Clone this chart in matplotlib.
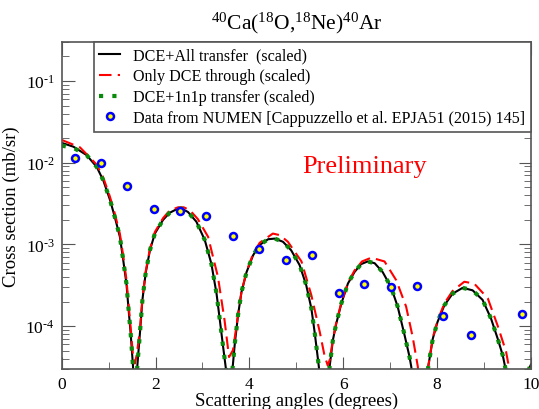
import matplotlib
matplotlib.use("Agg")
import matplotlib.pyplot as plt
import numpy as np
from matplotlib.ticker import MultipleLocator, LogLocator, NullFormatter, FuncFormatter

plt.rcParams['font.family'] = ['Liberation Serif', 'DejaVu Serif']
plt.rcParams['mathtext.fontset'] = 'custom'
plt.rcParams['mathtext.rm'] = 'Liberation Serif'
plt.rcParams['mathtext.it'] = 'Liberation Serif:italic'
plt.rcParams['axes.unicode_minus'] = False

# DCE+All transfer (scaled)
x_all = [0.00, 0.25, 0.53, 0.745, 0.885, 1.03, 1.13, 1.24, 1.31, 1.38, 1.42, 1.47, 1.52, 1.565,
         1.61, 1.666, 1.72, 1.79, 1.88, 1.985, 2.16, 2.30, 2.45, 2.55, 2.69, 2.87, 3.05, 3.19,
         3.30, 3.37, 3.44, 3.50, 3.57, 3.64, 3.69, 3.76, 3.83, 3.94, 4.08, 4.22, 4.40, 4.54,
         4.715, 4.89, 5.07, 5.21, 5.32, 5.39, 5.46, 5.48, 5.60, 5.71, 5.78, 5.85, 5.96, 6.10,
         6.24, 6.38, 6.52, 6.67, 6.84, 7.02, 7.16, 7.30, 7.41, 7.45, 7.63, 7.815, 7.91, 8.01,
         8.155, 8.33, 8.545, 8.757, 8.97, 9.15, 9.29, 9.40, 9.45, 9.65, 9.90, 10.0]
y_all = [1.75e-2, 1.57e-2, 1.24e-2, 8.9e-3, 6.1e-3, 3.5e-3, 2.18e-3, 1.24e-3, 6.5e-4, 3.3e-4,
         1.74e-4, 8.1e-5, 3.2e-5, 5e-6, 3.2e-5, 8.1e-5, 2.1e-4, 4.5e-4, 8.5e-4, 1.36e-3,
         2.0e-3, 2.44e-3, 2.7e-3, 2.75e-3, 2.5e-3, 1.9e-3, 1.13e-3, 5.8e-4, 2.5e-4, 1.19e-4,
         5.6e-5, 3.0e-5, 4e-6, 3.0e-5, 6.2e-5, 1.4e-4, 2.6e-4, 4.6e-4, 7.4e-4, 9.9e-4,
         1.16e-3, 1.18e-3, 1.08e-3, 8.5e-4, 5.6e-4, 3.2e-4, 1.66e-4, 8.5e-5, 4.0e-5, 3.2e-5,
         4e-6, 3.2e-5, 6.8e-5, 1.07e-4, 1.9e-4, 3.33e-4, 4.6e-4, 5.75e-4, 6.2e-4, 5.9e-4,
         4.6e-4, 3.0e-4, 1.74e-4, 8.1e-5, 4.3e-5, 3.2e-5, 4e-6, 3.3e-5, 7.1e-5, 1.13e-4,
         1.8e-4, 2.5e-4, 2.95e-4, 2.75e-4, 2.1e-4, 1.24e-4, 7.1e-5, 4.4e-5, 3.2e-5, 4e-6,
         2.5e-5, 3.4e-5]

# Only DCE through (scaled)
x_dce = [0.00, 0.39, 0.745, 0.885, 1.03, 1.13, 1.24, 1.31, 1.38, 1.42, 1.47, 1.52, 1.56, 1.60,
         1.666, 1.72, 1.79, 1.88, 1.985, 2.16, 2.30, 2.48, 2.60, 2.73, 2.90, 3.12, 3.33, 3.47,
         3.566, 3.65, 3.76, 3.83, 3.94, 4.08, 4.22, 4.50, 4.65, 4.82, 5.11, 5.32, 5.50, 5.60,
         5.67, 5.72, 5.78, 5.85, 5.96, 6.10, 6.24, 6.40, 6.60, 6.88, 7.13, 7.34, 7.48, 7.59,
         7.70, 7.815, 7.91, 8.01, 8.155, 8.33, 8.58, 8.79, 9.08, 9.29, 9.47, 9.53, 9.72, 9.95,
         10.0]
y_dce = [1.9e-2, 1.54e-2, 9.5e-3, 6.6e-3, 3.8e-3, 2.4e-3, 1.35e-3, 7.3e-4, 3.7e-4, 2.0e-4,
         9.5e-5, 4.3e-5, 3.5e-5, 4.5e-5, 9.0e-5, 2.2e-4, 4.7e-4, 8.8e-4, 1.42e-3, 2.1e-3,
         2.6e-3, 2.85e-3, 2.85e-3, 2.63e-3, 2.05e-3, 1.24e-3, 4.0e-4, 1.19e-4, 4.2e-5, 5.1e-5,
         1.4e-4, 2.6e-4, 4.7e-4, 7.7e-4, 1.05e-3, 1.36e-3, 1.3e-3, 1.08e-3, 6.2e-4, 2.4e-4,
         8.5e-5, 4.4e-5, 3.3e-5, 4.0e-5, 7.0e-5, 1.1e-4, 1.95e-4, 3.4e-4, 4.8e-4, 6.2e-4,
         6.9e-4, 6.2e-4, 3.65e-4, 1.74e-4, 7.4e-5, 3.2e-5, 4e-6, 3.3e-5, 7.3e-5, 1.17e-4,
         1.9e-4, 2.7e-4, 3.5e-4, 3.33e-4, 2.2e-4, 1.02e-4, 4.9e-5, 3.2e-5, 4e-6, 2.5e-5, 3.2e-5]

# DCE+1n1p transfer (scaled): follows the full curve except at forward angles
x_1n1p = x_all
y_1n1p = [1.62e-2, 1.52e-2] + y_all[2:]

# NUMEN data
x_data = [0.28, 0.84, 1.40, 1.97, 2.52, 3.07, 3.65, 4.21, 4.77, 5.33, 5.91, 6.45, 7.02,
          7.58, 8.13, 8.72, 9.82]
y_data = [1.14e-2, 9.8e-3, 5.2e-3, 2.7e-3, 2.6e-3, 2.2e-3, 1.28e-3, 8.8e-4, 6.5e-4, 7.4e-4,
          2.58e-4, 3.25e-4, 3.0e-4, 3.1e-4, 1.35e-4, 7.9e-5, 1.41e-4]

fig = plt.figure(figsize=(5.39, 4.10), dpi=100)
ax = fig.add_axes([0.1145, 0.0976, 0.8705, 0.7976])

ax.plot(x_all, y_all, color='black', lw=1.5, label='DCE+All transfer  (scaled)')
ax.plot(x_dce, y_dce, color='red', lw=1.5, dashes=(6, 3), label='Only DCE through (scaled)')
ax.plot(x_1n1p, y_1n1p, color='#0a8a0a', lw=3, linestyle=(0, (1, 2.2)),
        label='DCE+1n1p transfer (scaled)')
ax.plot(x_data, y_data, linestyle='none', marker='o', ms=5, mfc='yellow', mec='blue', mew=1.8,
        label='Data from NUMEN [Cappuzzello et al. EPJA51 (2015) 145]')

ax.set_yscale('log')
ax.set_xlim(0, 10)
ax.set_ylim(3e-5, 0.3)
ax.xaxis.set_major_locator(MultipleLocator(2))
ax.xaxis.set_minor_locator(MultipleLocator(1))
ax.yaxis.set_major_locator(LogLocator(base=10, numticks=20))
ax.yaxis.set_major_formatter(FuncFormatter(
    lambda v, p: r'$10^{\text{-%d}}$' % round(-np.log10(v))))
ax.yaxis.set_minor_locator(LogLocator(base=10, subs=range(2, 10), numticks=20))
ax.yaxis.set_minor_formatter(NullFormatter())
ax.tick_params(which='both', direction='in', top=True, right=True, labelsize=12.5, pad=5)
ax.tick_params(which='major', length=9, color='#555555')
ax.tick_params(which='minor', length=5, color='#555555')
for s in ax.spines.values():
    s.set_color('#555555')
    s.set_linewidth(1.2)

ax.set_xlabel('Scattering angles (degrees)', fontsize=13.5, labelpad=0)
ax.set_ylabel('Cross section (mb/sr)', fontsize=13.5, labelpad=4)
ax.set_title(r'$^{40}$Ca($^{18}$O,$^{18}$Ne)$^{40}$Ar', fontsize=15.5, pad=10)

ax.text(6.45, 9.0e-3, 'Preliminary', color='red', fontsize=19, ha='center', va='center')

leg = ax.legend(loc='upper right', borderaxespad=0, fontsize=11.6, fancybox=False,
                edgecolor='#555555', framealpha=1, handlelength=1.3, handletextpad=0.8,
                labelspacing=0.3, borderpad=0.35)
leg.get_frame().set_linewidth(1.2)

fig.savefig('out.png', dpi=100)
